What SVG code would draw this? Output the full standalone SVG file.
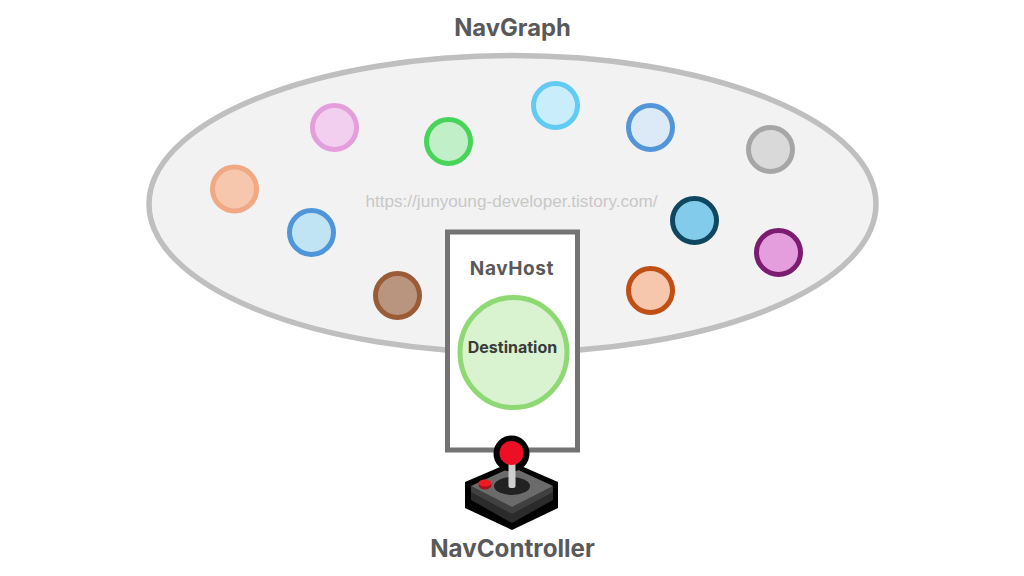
<svg xmlns="http://www.w3.org/2000/svg" width="1024" height="576" viewBox="0 0 1024 576">
<style>
.n{stroke-width:5}
.t{font-family:"Inter","Open Sans","Liberation Sans",sans-serif;font-weight:700;text-anchor:middle;fill:#595959}
</style>
<rect width="1024" height="576" fill="#fff"/>
<g id="navgraph">
<ellipse cx="512.500" cy="204" rx="363.500" ry="148.500" fill="#f2f2f2" stroke="#bfbfbf" stroke-width="5.500"/>
<text class="t" x="512.500" y="36" font-size="23.800">NavGraph</text>
</g>
<text x="511.500" y="207" font-family="Liberation Sans, sans-serif" font-size="17.150" text-anchor="middle" fill="#c8c8c8">https://junyoung-developer.tistory.com/</text>
<g id="node-1"><circle class="n" cx="234.500" cy="189" r="22" fill="#f6c6ad" stroke="#f1a983"/></g>
<g id="node-2"><circle class="n" cx="334.500" cy="127.500" r="22" fill="#f2ceef" stroke="#e59edc"/></g>
<g id="node-3"><circle class="n" cx="448.500" cy="141.500" r="22" fill="#c1f0c8" stroke="#47d459"/></g>
<g id="node-4"><circle class="n" cx="555.500" cy="105.500" r="22" fill="#caedfb" stroke="#61cbf4"/></g>
<g id="node-5"><circle class="n" cx="650.500" cy="127.500" r="22" fill="#dceaf7" stroke="#5296d9"/></g>
<g id="node-6"><circle class="n" cx="770.500" cy="149.500" r="22" fill="#d9d9d9" stroke="#a6a6a6"/></g>
<g id="node-7"><circle class="n" cx="311.500" cy="232.500" r="22" fill="#c1e4f5" stroke="#4e95d9"/></g>
<g id="node-8"><circle class="n" cx="694.500" cy="220.500" r="22" fill="#83cbeb" stroke="#0f4761"/></g>
<g id="node-9"><circle class="n" cx="778.500" cy="252.500" r="22" fill="#e49edd" stroke="#7b1c71"/></g>
<g id="node-10"><circle class="n" cx="397.500" cy="295.500" r="22" fill="#b99580" stroke="#9a5b37"/></g>
<g id="node-11"><circle class="n" cx="650.500" cy="290.500" r="22" fill="#f6c6ad" stroke="#c04f15"/></g>
<g id="navhost">
<rect x="447.500" y="232" width="130" height="218" fill="#fff" stroke="#737373" stroke-width="5"/>
<text class="t" x="512" y="275" font-size="19" letter-spacing="0.600">NavHost</text>
</g>
<g id="destination">
<ellipse cx="513.500" cy="352.500" rx="53.500" ry="55" fill="#d9f2d0" stroke="#8ed973" stroke-width="5"/>
<text class="t" x="512.500" y="353" font-size="16" style="fill:#3a3a3a">Destination</text>
</g>
<g id="navcontroller">
<polygon points="512,462 558,482 558,508 512,530 465,508 465,482" fill="#000"/>
<polygon points="512,500 553,486 553,500 512,523 471,500 471,486" fill="#2b2b2b"/>
<polygon points="471,486 512,507 553,486 553,492 512,514 471,492" fill="#404040"/>
<polygon points="512,467 553,486 512,507 471,486" fill="#6b6b6b"/>
<ellipse cx="512" cy="486" rx="18" ry="9" fill="#222"/>
<ellipse cx="485" cy="485" rx="6.500" ry="4.500" fill="#a8101d"/>
<ellipse cx="485" cy="483" rx="6.500" ry="3.500" fill="#ed1c24"/>
<circle cx="511.500" cy="453.500" r="18" fill="#000"/>
<rect x="508.500" y="462" width="7" height="26" rx="2" fill="#cfcfcf"/>
<circle cx="511.500" cy="453" r="12" fill="#ed1024"/>
<text class="t" x="512.500" y="557" font-size="24.200">NavController</text>
</g>
<g id="connectors"/>
</svg>
